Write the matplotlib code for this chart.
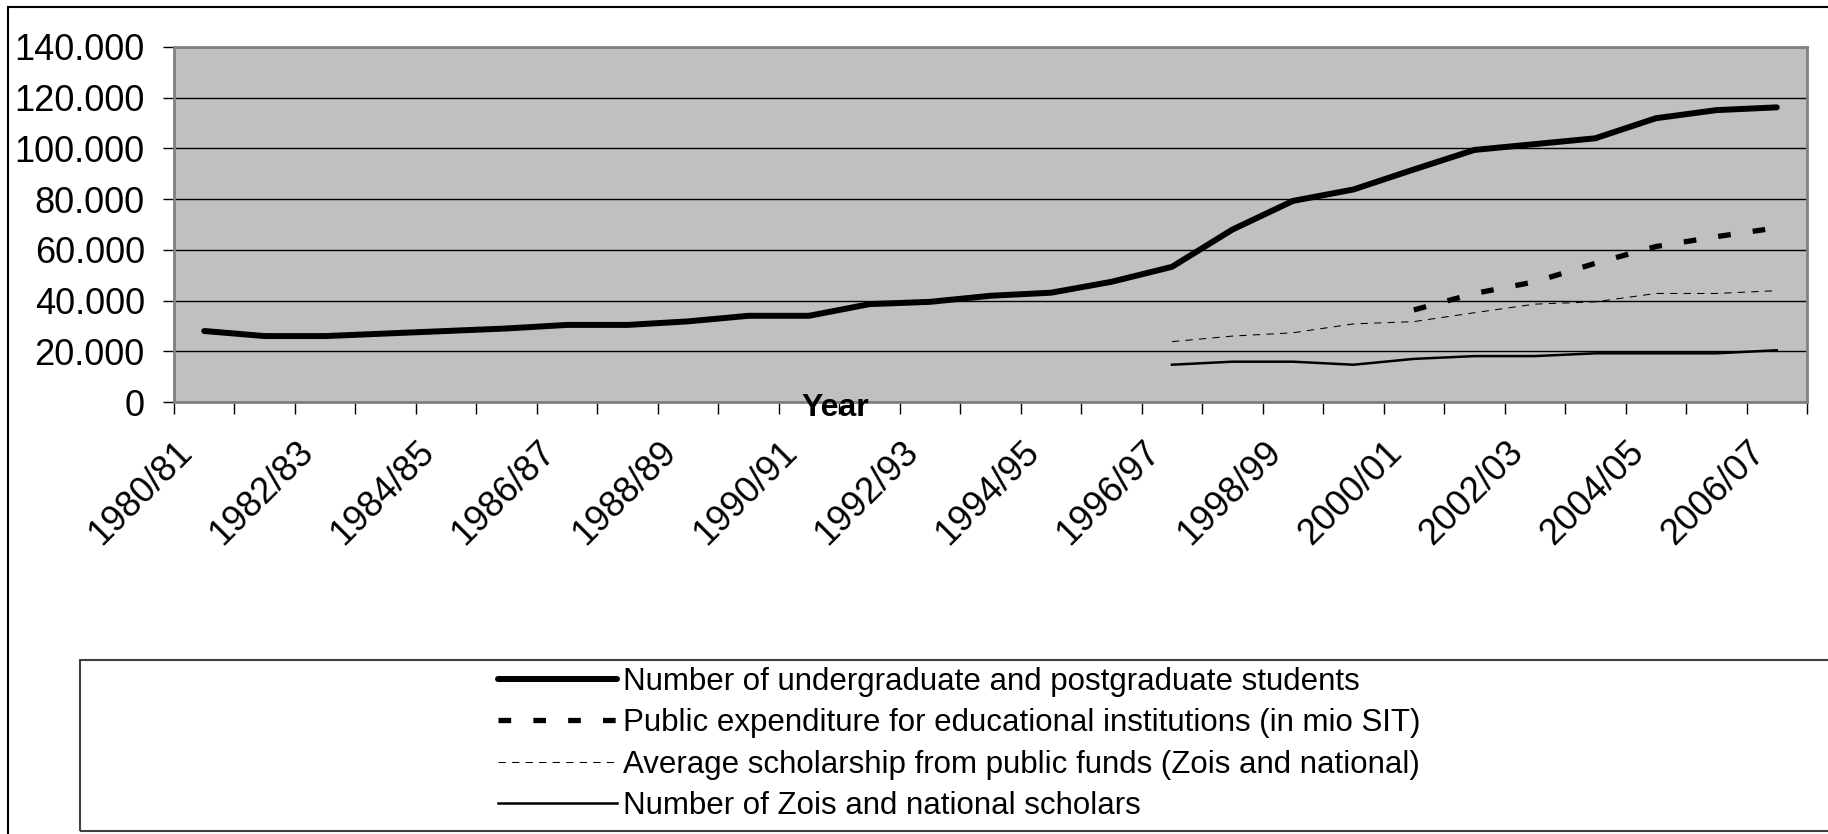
import numpy as np
import matplotlib
matplotlib.use("Agg")
import matplotlib.pyplot as plt
import matplotlib.transforms as mtransforms
from matplotlib.patches import Rectangle
from matplotlib.ticker import FuncFormatter, FixedLocator, NullFormatter

plt.rcParams["font.family"] = ["Liberation Sans", "DejaVu Sans"]

years = [f"{y}/{str(y + 1)[-2:]}" for y in range(1980, 2007)]

students = [28000, 26000, 26000, 27000, 28000, 29000, 30400, 30400, 31800,
            34000, 34000, 38600, 39500, 41900, 43100, 47400, 53300, 68000,
            79300, 83800, 91700, 99400, 101700, 104000, 111900, 115100, 116200]
expenditure_start = 20
expenditure = [36300, 42800, 47400, 54700, 61300, 65200, 68700]
scholarship_start = 16
scholarship = [23800, 26000, 27300, 30800, 31700, 35200, 38600, 39500,
               42800, 42800, 43900]
scholars_start = 16
scholars = [14700, 15900, 15900, 14700, 17000, 18100, 18100, 19200,
            19200, 19200, 20400]

labels = [
    "Number of undergraduate and postgraduate students",
    "Public expenditure for educational institutions (in mio SIT)",
    "Average scholarship from public funds (Zois and national)",
    "Number of Zois and national scholars",
]

W, H = 1828, 834
fig = plt.figure(figsize=(W / 100, H / 100), dpi=100)
ax = fig.add_axes([174 / W, 1 - 402 / H, (1807 - 174) / W, (402 - 47) / H])
ax.set_facecolor("#c0c0c0")

x = np.arange(len(years))
l1, = ax.plot(x, students, color="black", lw=4.3, solid_capstyle="round",
              solid_joinstyle="round")
l2, = ax.plot(x[expenditure_start:], expenditure, color="black", lw=3.8,
              dashes=(2.4, 4.2), dash_capstyle="butt")
l3, = ax.plot(x[scholarship_start:], scholarship, color="black", lw=0.75,
              dashes=(7, 6))
l4, = ax.plot(x[scholars_start:], scholars, color="black", lw=1.8)

ax.set_xlim(-0.5, len(years) - 0.5)
ax.set_ylim(0, 140000)
ax.set_yticks(np.arange(0, 140001, 20000))
ax.yaxis.set_major_formatter(
    FuncFormatter(lambda v, p: f"{int(v):,}".replace(",", ".")))
ax.grid(axis="y", color="black", lw=1)
ax.set_axisbelow(True)

# tick marks on category boundaries, labels at every second category centre
ax.xaxis.set_major_locator(FixedLocator(np.arange(-0.5, len(years), 1)))
ax.xaxis.set_major_formatter(NullFormatter())
ax.tick_params(axis="x", length=8.5, width=1, color="black")
ax.tick_params(axis="y", length=8, width=1, color="black", pad=13,
               labelsize=26)

lab_tr = (mtransforms.blended_transform_factory(ax.transData, ax.transAxes)
          + mtransforms.ScaledTranslation(-17 / 100, -45 / 100,
                                          fig.dpi_scale_trans))
for i in x[::2]:
    ax.text(i, 0, years[i], transform=lab_tr, fontsize=26, rotation=45,
            ha="right", va="center", rotation_mode="anchor", clip_on=False)

for s in ax.spines.values():
    s.set_color("#808080")
    s.set_linewidth(2)

fig.text(835 / W, 1 - 408 / H, "Year", fontsize=23, fontweight="bold",
         ha="center", va="center")

# outer chart border (top and left only visible)
fig.patches.append(Rectangle((8 / W, -0.1), 1.2, 1.1 - 7 / H, fill=False,
                             ec="black", lw=1.5, transform=fig.transFigure))
# legend frame
fig.patches.append(Rectangle((80 / W, 1 - 831 / H), 1.0, (831 - 660) / H,
                             fill=False, ec="#404040", lw=1.5,
                             transform=fig.transFigure))

fig.legend([l1, l2, l3, l4], labels, loc="upper left",
           bbox_to_anchor=(498 / W, 1 - 667 / H), frameon=False, fontsize=22.5,
           handlelength=3.8, handletextpad=0.2, labelspacing=0.36,
           borderpad=0, borderaxespad=0)

fig.savefig("out.png", dpi=100)
